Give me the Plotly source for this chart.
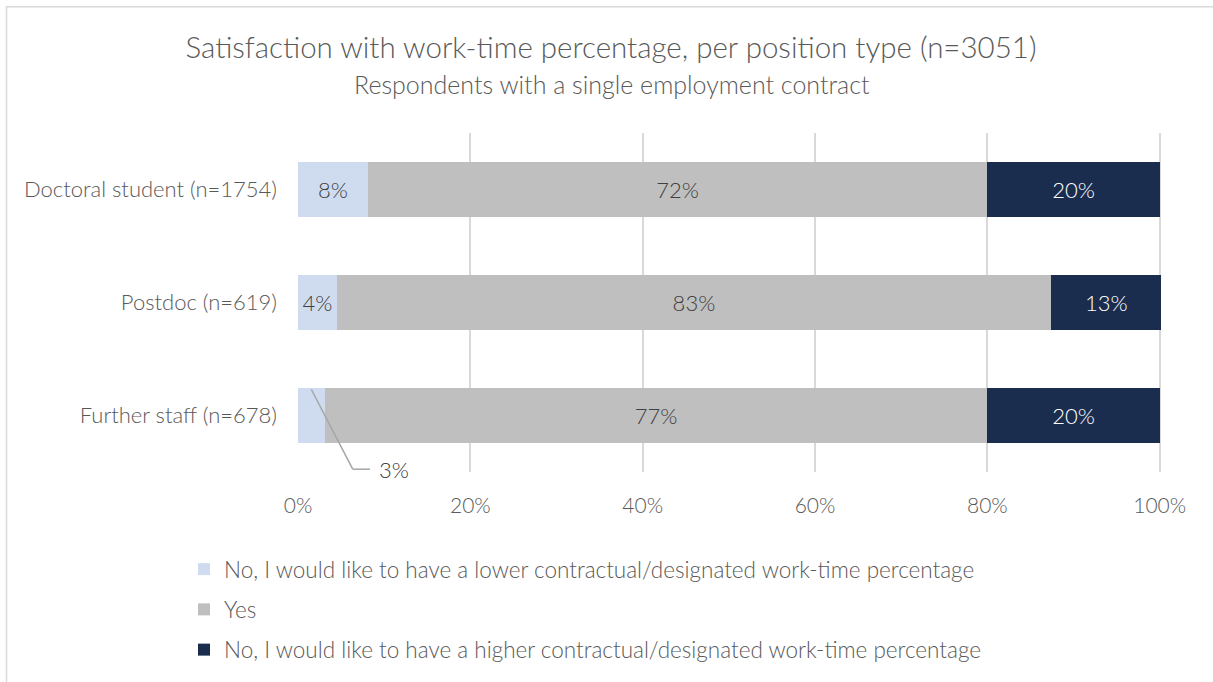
import plotly.graph_objects as go

categories = ["Doctoral student (n=1754)", "Postdoc (n=619)", "Further staff (n=678)"]
series_names = [
    "No, I would like to have a lower contractual/designated work-time percentage",
    "Yes",
    "No, I would like to have a higher contractual/designated work-time percentage",
]
lower = [8.1, 4.5, 3.1]
yes = [71.9, 82.9, 76.9]
higher = [20.0, 12.8, 20.0]
lower_labels = ["8%", "4%", ""]
yes_labels = ["72%", "83%", "77%"]
higher_labels = ["20%", "13%", "20%"]
outside_label = "3%"
tick_vals = [0, 20, 40, 60, 80, 100]

colors = ["#cfdcef", "#bfbfbf", "#1b2d4f"]
text_colors = ["#404040", "#404040", "#ffffff"]
FONT = "Source Sans Pro, Lato, Open Sans, sans-serif"
GRAY = "#595959"

ypos = [2, 1, 0]

fig = go.Figure()
for name, vals, labels, col, tcol in zip(series_names, [lower, yes, higher],
                                          [lower_labels, yes_labels, higher_labels],
                                          colors, text_colors):
    fig.add_trace(go.Bar(
        x=vals, y=ypos, orientation="h", name=name,
        marker=dict(color=col, line=dict(width=0)),
        text=labels, textposition="inside", insidetextanchor="middle",
        textfont=dict(color=tcol, size=22, family=FONT, weight=300),
        legendgroup=name, width=0.49, hoverinfo="skip",
    ))

# leader line for the small label
lx = lower[2] / 2
fig.add_shape(type="line", x0=lx, y0=ypos[2] + 0.23, x1=lx + 4.8, y1=ypos[2] - 0.475,
              line=dict(color="#a6a6a6", width=1.5))
fig.add_shape(type="line", x0=lx + 4.8, y0=ypos[2] - 0.475, x1=lx + 6.8, y1=ypos[2] - 0.475,
              line=dict(color="#a6a6a6", width=1.5))
fig.add_annotation(x=lx + 7.6, y=ypos[2] - 0.475, text=outside_label, showarrow=False,
                   xanchor="left", yanchor="middle",
                   font=dict(color="#404040", size=22, family=FONT, weight=300))

ML, MR, MT, MB = 298, 49, 133, 209
W, H = 1213, 682
pw, ph = W - ML - MR, H - MT - MB
fig.add_shape(type="rect", xref="paper", yref="paper",
              x0=(6.5 - ML) / pw, x1=(W + 10 - ML) / pw,
              y0=(H - MB - (H + 10)) / ph, y1=(H - MB - 6.5) / ph,
              line=dict(color="#d9d9d9", width=1.5), layer="below")

fig.add_annotation(xref="paper", yref="paper", x=(612 - ML) / pw, y=(H - MB - 84) / ph,
                   text="Respondents with a single employment contract", showarrow=False,
                   xanchor="center", yanchor="middle",
                   font=dict(size=25, color=GRAY, family=FONT, weight=300))

fig.update_layout(
    width=W, height=H,
    margin=dict(l=ML, r=MR, t=MT, b=MB),
    barmode="stack",
    hovermode=False,
    plot_bgcolor="white", paper_bgcolor="white",
    font=dict(family=FONT, color=GRAY, weight=300),
    title=dict(
        text="Satisfaction with work-time percentage, per position type (n=3051)",
        x=611 / W, xref="container", xanchor="center",
        y=1 - 48 / H, yref="container", yanchor="middle",
        font=dict(size=29.5, color=GRAY, family=FONT, weight=300),
    ),
    xaxis=dict(range=[0, 100.5], tickvals=tick_vals, ticktext=[f"{v}%" for v in tick_vals],
               showgrid=True, gridcolor="#d9d9d9", gridwidth=2, zeroline=False,
               showline=False, ticklabelstandoff=19, fixedrange=True,
               tickfont=dict(size=21, color=GRAY, family=FONT, weight=300)),
    yaxis=dict(range=[-0.5, 2.5], tickvals=ypos, ticktext=categories, showgrid=False,
               zeroline=False, showline=False, ticklabelstandoff=20, fixedrange=True,
               tickfont=dict(size=22, color=GRAY, family=FONT, weight=300)),
    showlegend=True,
    legend=dict(orientation="v", x=(184 - ML) / pw, xanchor="left",
                y=(H - MB - 548) / ph, yanchor="top", traceorder="grouped",
                tracegroupgap=8, font=dict(size=22.5, color=GRAY, family=FONT, weight=300),
                bgcolor="rgba(0,0,0,0)"),
)

fig.write_html("out.html", config={"displayModeBar": False},
               post_script="document.body.style.margin='0px';")
